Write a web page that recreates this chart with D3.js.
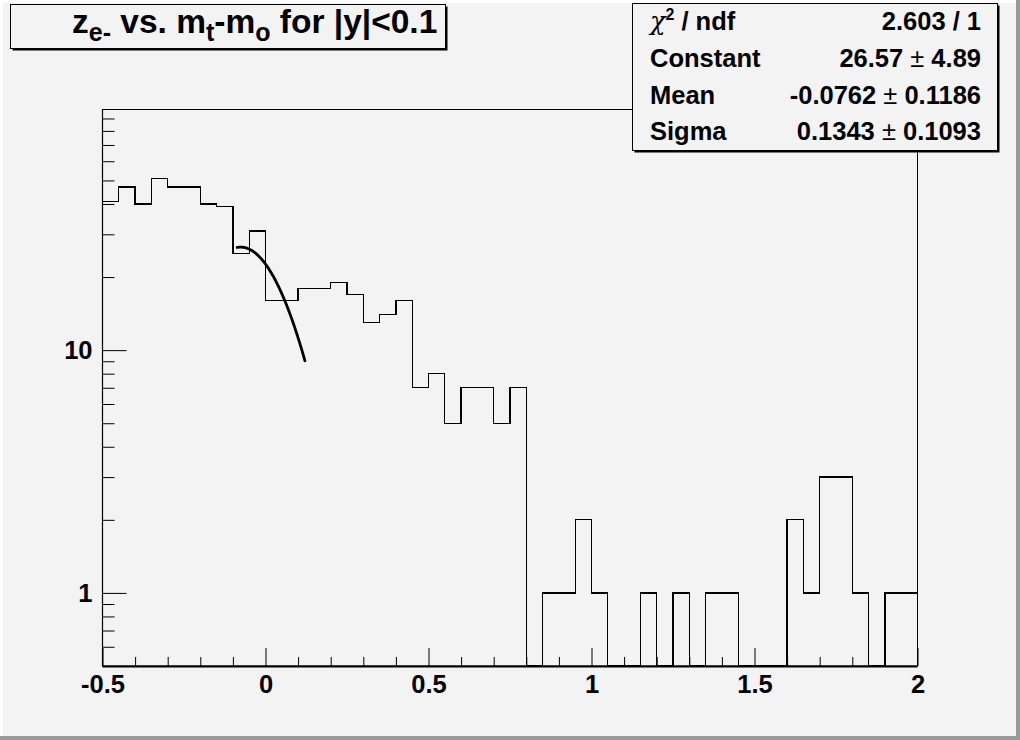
<!DOCTYPE html>
<html>
<head>
<meta charset="utf-8">
<script src="https://cdn.jsdelivr.net/npm/d3@7"></script>
<style>
  html, body { margin: 0; padding: 0; background: #f3f3f3; }
  svg { display: block; }
  text { font-family: "Liberation Sans", Arial, sans-serif; font-weight: bold; fill: #000; }
</style>
</head>
<body>
<div id="chart"></div>
<script>
// ---------------- data ----------------
const xMin = -0.5;
const xMax = 2.0;
const binWidth = 0.05;
const counts = [
  41, 47, 40, 51, 47, 47, 40, 39, 25, 31,
  16, 16, 18, 18, 19, 17, 13, 14, 16, 7,
  8, 5, 7, 7, 5, 7, 0, 1, 1, 2,
  1, 0, 0, 1, 0, 1, 0, 1, 1, 0,
  0, 0, 2, 1, 3, 3, 1, 0, 1, 1
];
const yMin = 0.5;
const yMax = 98;
const xMajorTicks = [-0.5, 0, 0.5, 1, 1.5, 2];
const xMajorLabels = ["-0.5", "0", "0.5", "1", "1.5", "2"];
const xMinorTicks = [-0.4, -0.3, -0.2, -0.1, 0.1, 0.2, 0.3, 0.4, 0.6, 0.7, 0.8, 0.9,
                     1.1, 1.2, 1.3, 1.4, 1.6, 1.7, 1.8, 1.9];
const yMajorTicks = [1, 10];
const yMajorLabels = ["1", "10"];
const yMinorTicks = [0.6, 0.7, 0.8, 0.9, 2, 3, 4, 5, 6, 7, 8, 9, 20, 30, 40, 50, 60, 70, 80, 90];
// Gaussian fit parameters (as printed in the stats box)
const fitConstant = 26.57;
const fitMean = -0.0762;
const fitSigma = 0.1343;
const fitRange = [-0.087, 0.121];
const statsLabels = ["Constant", "Mean", "Sigma"];
const statsValues = [["26.57", "4.89"], ["-0.0762", "0.1186"], ["0.1343", "0.1093"]];
const chi2Text = "2.603 / 1";

// ---------------- layout ----------------
const W = 1020, H = 740;
const frame = { left: 102.5, right: 917.5, top: 109.5, bottom: 666 };

const svg = d3.select("#chart").append("svg")
  .attr("width", W).attr("height", H);

// canvas background + bevel border
svg.append("rect").attr("x", 0).attr("y", 0).attr("width", W).attr("height", H).attr("fill", "#f3f3f3");
svg.append("rect").attr("x", 0).attr("y", 0).attr("width", W).attr("height", 3).attr("fill", "#ffffff");
svg.append("rect").attr("x", 0).attr("y", 0).attr("width", 3).attr("height", H).attr("fill", "#ffffff");
svg.append("rect").attr("x", W - 4).attr("y", 0).attr("width", 4).attr("height", H).attr("fill", "#9a9a9a");
svg.append("rect").attr("x", 0).attr("y", H - 4).attr("width", W).attr("height", 4).attr("fill", "#9a9a9a");

const x = d3.scaleLinear().domain([xMin, xMax]).range([frame.left, frame.right]);
const y = d3.scaleLog().domain([yMin, yMax]).range([frame.bottom, frame.top]);

// frame
svg.append("rect")
  .attr("x", frame.left).attr("y", frame.top)
  .attr("width", frame.right - frame.left).attr("height", frame.bottom - frame.top)
  .attr("fill", "none").attr("stroke", "#000").attr("stroke-width", 1);

// histogram
const yc = v => (v <= yMin ? frame.bottom : y(v));
const pts = [[x(xMin), frame.bottom]];
counts.forEach((c, i) => {
  const x0 = xMin + i * binWidth, x1 = x0 + binWidth;
  pts.push([x(x0), yc(c)]);
  pts.push([x(x1), yc(c)]);
});
pts.push([x(xMax), frame.bottom]);
svg.append("path")
  .attr("d", d3.line()(pts))
  .attr("fill", "none").attr("stroke", "#000").attr("stroke-width", 1.3)
  .attr("shape-rendering", "crispEdges");

// fit curve from printed parameters
const gaus = t => fitConstant * Math.exp(-0.5 * Math.pow((t - fitMean) / fitSigma, 2));
const fitXs = d3.range(0, 61).map(k => fitRange[0] + (fitRange[1] - fitRange[0]) * k / 60);
svg.append("path")
  .attr("d", d3.line().x(t => x(t)).y(t => y(gaus(t))).curve(d3.curveLinear)(fitXs))
  .attr("fill", "none").attr("stroke", "#000").attr("stroke-width", 2.8)
  .attr("stroke-linecap", "round");

// x axis
const gx = svg.append("g").attr("transform", `translate(0,${frame.bottom})`);
gx.call(d3.axisBottom(x).tickValues(xMinorTicks).tickSize(-9).tickSizeOuter(0).tickFormat(""));
gx.append("g").call(d3.axisBottom(x).tickValues(xMajorTicks).tickSize(-18).tickSizeOuter(0).tickPadding(9)
  .tickFormat((d, i) => xMajorLabels[i]));
gx.selectAll(".domain").remove();
gx.selectAll("line").attr("stroke", "#000").attr("stroke-width", 1);
gx.selectAll("text").attr("font-size", 25.5).attr("font-family", "Liberation Sans, Arial, sans-serif")
  .attr("font-weight", "bold").attr("fill", "#000");
svg.append("line").attr("x1", frame.left).attr("x2", frame.right)
  .attr("y1", frame.bottom + 0.5).attr("y2", frame.bottom + 0.5)
  .attr("stroke", "#000").attr("stroke-width", 2);

// y axis
const gy = svg.append("g").attr("transform", `translate(${frame.left},0)`);
gy.call(d3.axisLeft(y).tickValues(yMinorTicks).tickSize(-12).tickSizeOuter(0).tickFormat(""));
gy.append("g").call(d3.axisLeft(y).tickValues(yMajorTicks).tickSize(-24).tickSizeOuter(0).tickPadding(10)
  .tickFormat((d, i) => yMajorLabels[i]));
gy.selectAll(".domain").remove();
gy.selectAll("line").attr("stroke", "#000").attr("stroke-width", 1);
gy.selectAll("text").attr("font-size", 25.5).attr("font-family", "Liberation Sans, Arial, sans-serif")
  .attr("font-weight", "bold").attr("fill", "#000");
svg.append("line").attr("x1", frame.left).attr("x2", frame.left)
  .attr("y1", frame.top).attr("y2", frame.bottom)
  .attr("stroke", "#000").attr("stroke-width", 1.2);

// title box
const tb = { x: 10.5, y: 4.5, w: 435, h: 44 };
svg.append("rect").attr("x", tb.x).attr("y", tb.y).attr("width", tb.w).attr("height", tb.h)
  .attr("fill", "#f3f3f3").attr("stroke", "#000").attr("stroke-width", 1);
svg.append("path").attr("d", `M${tb.x + 2},${tb.y + tb.h + 1} H${tb.x + tb.w + 1} V${tb.y + 2}`)
  .attr("fill", "none").attr("stroke", "#000").attr("stroke-width", 2);
const title = svg.append("text").attr("x", 72).attr("y", 32.5).attr("font-size", 33.5);
title.append("tspan").text("z");
title.append("tspan").attr("font-size", 25).attr("dy", 8).text("e-");
title.append("tspan").attr("dy", -8).text(" vs. m");
title.append("tspan").attr("font-size", 25).attr("dy", 8).text("t");
title.append("tspan").attr("dy", -8).text("-m");
title.append("tspan").attr("font-size", 25).attr("dy", 8).text("o");
title.append("tspan").attr("dy", -8).text(" for |y|<0.1");

// stats box
const sb = { x: 632.5, y: 3.5, w: 365, h: 147 };
svg.append("rect").attr("x", sb.x).attr("y", sb.y).attr("width", sb.w).attr("height", sb.h)
  .attr("fill", "#f3f3f3").attr("stroke", "#000").attr("stroke-width", 1);
svg.append("path").attr("d", `M${sb.x + 2},${sb.y + sb.h + 1} H${sb.x + sb.w + 1} V${sb.y + 2}`)
  .attr("fill", "none").attr("stroke", "#000").attr("stroke-width", 2);

const sLeft = 650, sRight = 981, fs = 25.5;
const rowY = [30, 67, 104, 140];
const r0 = svg.append("text").attr("x", sLeft).attr("y", rowY[0]).attr("font-size", fs);
r0.append("tspan").attr("font-family", "DejaVu Serif, serif").attr("font-weight", "normal").attr("font-style", "italic").text("χ");
r0.append("tspan").attr("font-size", 16).attr("dy", -10).text("2");
r0.append("tspan").attr("dy", 10).text(" / ndf");
svg.append("text").attr("x", sRight).attr("y", rowY[0]).attr("text-anchor", "end").attr("font-size", fs).text(chi2Text);

statsLabels.forEach((lab, i) => {
  svg.append("text").attr("x", sLeft).attr("y", rowY[i + 1]).attr("font-size", fs).text(lab);
  const t = svg.append("text").attr("x", sRight).attr("y", rowY[i + 1]).attr("text-anchor", "end").attr("font-size", fs);
  t.append("tspan").text(statsValues[i][0] + " ");
  t.append("tspan").attr("font-weight", "normal").text("±");
  t.append("tspan").text(" " + statsValues[i][1]);
});
</script>
</body>
</html>
